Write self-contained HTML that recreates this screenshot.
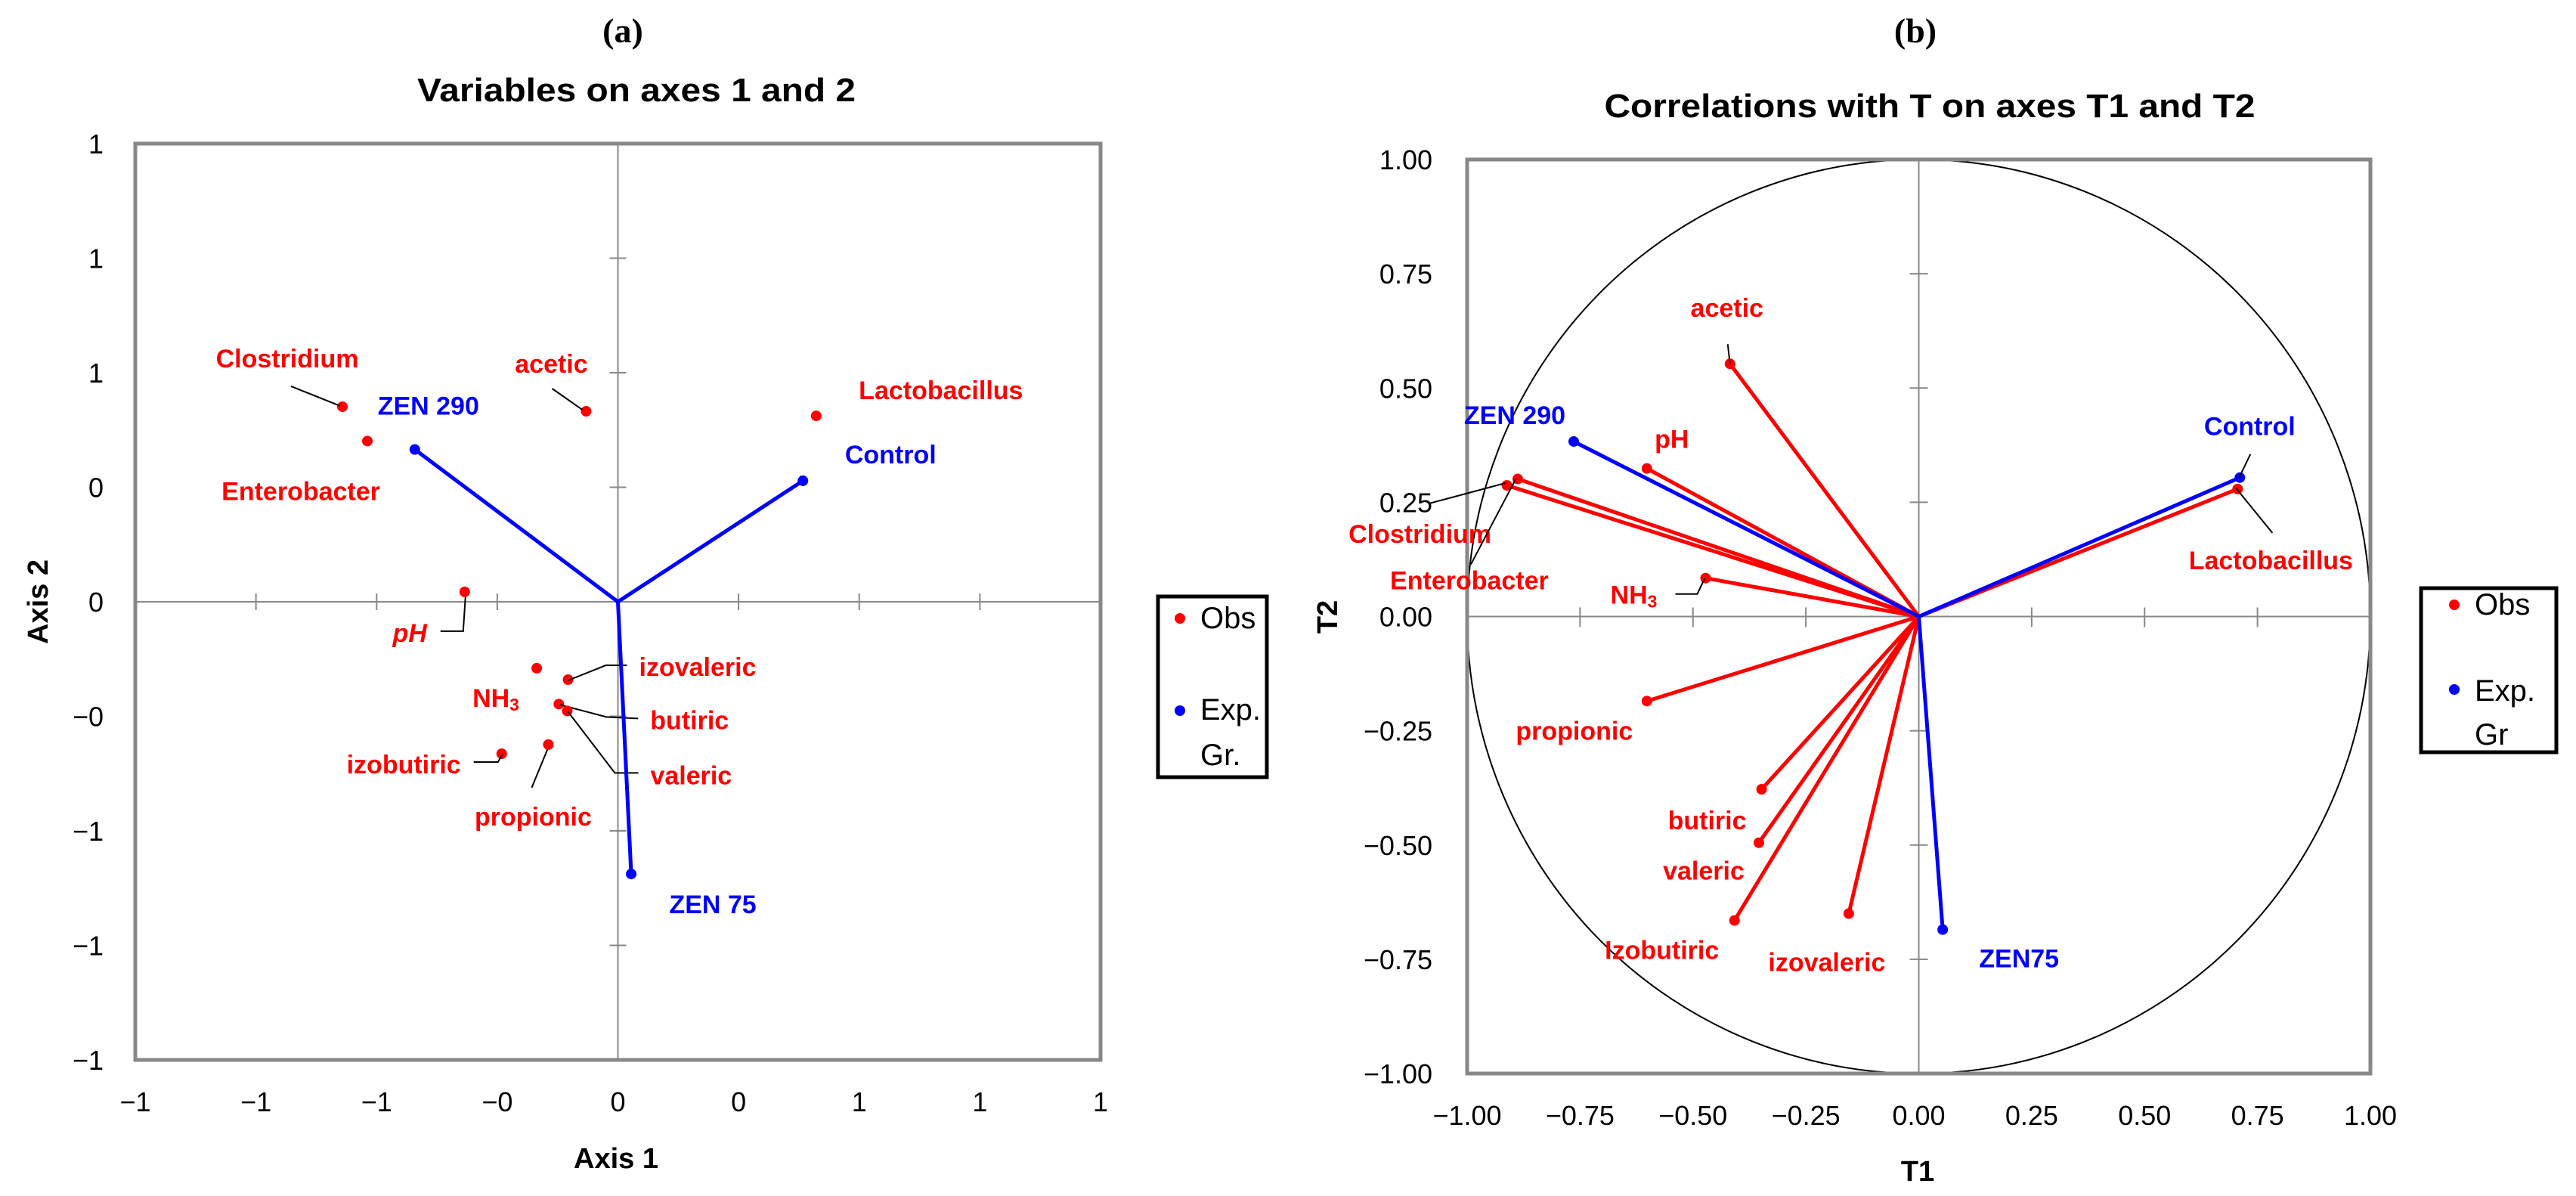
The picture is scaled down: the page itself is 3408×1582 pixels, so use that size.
<!DOCTYPE html>
<html><head><meta charset="utf-8"><style>
html,body{margin:0;padding:0;background:#fff;}
svg{display:block;font-family:"Liberation Sans",sans-serif;}
</style></head><body>
<svg id="fig" width="3408" height="1582" viewBox="0 0 3408 1582" xmlns="http://www.w3.org/2000/svg">
<text x="824" y="56" text-anchor="middle" font-family="Liberation Serif,serif" font-weight="bold" font-size="46">(a)</text>
<text x="842" y="134" text-anchor="middle" font-weight="bold" font-size="44" textLength="580" lengthAdjust="spacingAndGlyphs">Variables on axes 1 and 2</text>
<text x="2534" y="56" text-anchor="middle" font-family="Liberation Serif,serif" font-weight="bold" font-size="46">(b)</text>
<text x="2553" y="155" text-anchor="middle" font-weight="bold" font-size="44" textLength="861" lengthAdjust="spacingAndGlyphs">Correlations with T on axes T1 and T2</text>
<text x="815" y="1545" text-anchor="middle" font-weight="bold" font-size="38">Axis 1</text>
<text transform="translate(63,796) rotate(-90)" text-anchor="middle" font-weight="bold" font-size="38">Axis 2</text>
<text x="2537" y="1562" text-anchor="middle" font-weight="bold" font-size="38">T1</text>
<text transform="translate(1769,816) rotate(-90)" text-anchor="middle" font-weight="bold" font-size="38">T2</text>
<g>
<rect x="1532" y="789" width="144" height="239" fill="#fff" stroke="#000" stroke-width="5"/>
<circle cx="1561" cy="818" r="7" fill="#f00"/><text x="1588" y="831" font-size="40">Obs</text>
<circle cx="1561" cy="940" r="7" fill="#00f"/><text x="1588" y="952" font-size="40">Exp.</text><text x="1588" y="1012" font-size="40">Gr.</text>
</g>
<g>
<rect x="3203" y="778" width="179" height="217" fill="#fff" stroke="#000" stroke-width="5"/>
<circle cx="3247" cy="800" r="7" fill="#f00"/><text x="3274" y="813" font-size="40">Obs</text>
<circle cx="3247" cy="912" r="7" fill="#00f"/><text x="3274" y="927" font-size="40">Exp.</text><text x="3274" y="985" font-size="40">Gr</text>
</g>
<g id="ga"></g><g id="gb"></g>
</svg>
<script>
// ---- Chart A data ----
const aNames = ["Clostridium","Enterobacter","acetic","Lactobacillus","pH","NH3","izovaleric","butiric","valeric","izobutiric","propionic","ZEN 290","Control","ZEN 75"];
const aX = [-0.685,-0.623,-0.079,0.493,-0.381,-0.202,-0.124,-0.147,-0.126,-0.289,-0.173,-0.505,0.460,0.033];
const aY = [0.511,0.421,0.499,0.487,0.026,-0.174,-0.204,-0.268,-0.286,-0.398,-0.374,0.399,0.317,-0.713];
const aGroup = ["obs","obs","obs","obs","obs","obs","obs","obs","obs","obs","obs","exp","exp","exp"];
const aTicks = [-1.2,-0.9,-0.6,-0.3,0,0.3,0.6,0.9,1.2];
const aTickLabels = ["\u22121","\u22121","\u22121","\u22120","0","0","1","1","1"];
const aYTickLabels = ["\u22121","\u22121","\u22121","\u22120","0","0","1","1","1"];
// ---- Chart B data ----
const bNames = ["acetic","pH","Clostridium","Enterobacter","NH3","Lactobacillus","propionic","butiric","valeric","Izobutiric","izovaleric","ZEN 290","Control","ZEN75"];
const bX = [-0.418,-0.602,-0.912,-0.888,-0.472,0.706,-0.602,-0.348,-0.354,-0.408,-0.155,-0.764,0.711,0.053];
const bY = [0.553,0.324,0.287,0.301,0.084,0.279,-0.185,-0.378,-0.495,-0.665,-0.650,0.383,0.304,-0.685];
const bGroup = ["obs","obs","obs","obs","obs","obs","obs","obs","obs","obs","obs","exp","exp","exp"];
const bTicks = [-1,-0.75,-0.5,-0.25,0,0.25,0.5,0.75,1];
const bTickLabels = ["\u22121.00","\u22120.75","\u22120.50","\u22120.25","0.00","0.25","0.50","0.75","1.00"];

const NS="http://www.w3.org/2000/svg";
function mk(parent,tag,attrs){const e=document.createElementNS(NS,tag);for(const k in attrs)e.setAttribute(k,attrs[k]);parent.appendChild(e);return e;}
function label(g,name,x,y,anchor,color,italic){
  const t=mk(g,"text",{x:x,y:y,"text-anchor":anchor,"dominant-baseline":"central",fill:color,"font-weight":"bold","font-size":34});
  if(italic)t.setAttribute("font-style","italic");
  
  
  if(name==="NH3"){t.textContent="NH";const s=mk(t,"tspan",{"font-size":23,dy:8});s.textContent="3";}
  else t.textContent=name;
}
function leader(g,pts){
  const l=mk(g,"polyline",{points:pts.map(p=>p.join(",")).join(" "),fill:"none",stroke:"#000","stroke-width":2});
  
  
}

// ===== Chart A =====
(function(){
const g=document.getElementById("ga");
const L=179,R=1456,T=190,B=1402;
const sx=v=>L+(v+1.2)/2.4*(R-L), sy=v=>B-(v+1.2)/2.4*(B-T);
const x0=sx(0),y0=sy(0);
mk(g,"line",{x1:L,y1:y0,x2:R,y2:y0,stroke:"#888","stroke-width":2});
mk(g,"line",{x1:x0,y1:T,x2:x0,y2:B,stroke:"#888","stroke-width":2});
aTicks.forEach((v,i)=>{
  if(v!==0 && Math.abs(v)<1.2){
    mk(g,"line",{x1:sx(v),y1:y0-11,x2:sx(v),y2:y0+11,stroke:"#888","stroke-width":2});
    mk(g,"line",{x1:x0-11,y1:sy(v),x2:x0+11,y2:sy(v),stroke:"#888","stroke-width":2});
  }
  const tx=mk(g,"text",{x:sx(v),y:1470,"text-anchor":"middle","font-size":36});
  tx.textContent=aTickLabels[i];
  
  
  const ty=mk(g,"text",{x:137,y:sy(v)+13,"text-anchor":"end","font-size":36});
  ty.textContent=aYTickLabels[i];
  
  
});
const box=mk(g,"rect",{x:L,y:T,width:R-L,height:B-T,fill:"none",stroke:"#888","stroke-width":5});


const off={
 "Clostridium":[-73,-63,"middle",[[-68,-27],[-3,-1]]],
 "Enterobacter":[-88,67,"middle",null],
 "acetic":[-46,-62,"middle",[[-45,-30],[-5,-2]]],
 "Lactobacillus":[165,-33,"middle",null],
 "pH":[-50,55,"end",[[-32,52],[-2,52],[1,7]]],
 "NH3":[-54,40,"middle",null],
 "izovaleric":[94,-16,"start",[[0,1],[50,-19],[78,-19]]],
 "butiric":[121,22,"start",[[2,1],[63,17],[105,19]]],
 "valeric":[110,86,"start",[[1,1],[63,82],[94,82]]],
 "izobutiric":[-54,15,"end",[[-37,11],[-5,11],[1,1]]],
 "propionic":[-20,96,"middle",[[-22,57],[-1,6]]],
 "ZEN 290":[18,-57,"middle",null],
 "Control":[116,-34,"middle",null],
 "ZEN 75":[108,41,"middle",null]};
aNames.forEach((n,i)=>{
  const px=sx(aX[i]),py=sy(aY[i]);const exp=aGroup[i]==="exp";const col=exp?"#00f":"#f00";
  if(exp){const ln=mk(g,"line",{x1:x0,y1:y0,x2:px,y2:py,stroke:col,"stroke-width":5});
    
    }
  const c=mk(g,"circle",{cx:px,cy:py,r:7,fill:col});
  
  
  const o=off[n];
  if(o[3])leader(g,o[3].map(p=>[px+p[0],py+p[1]]));
  label(g,n,px+o[0],py+o[1],o[2],col,n==="pH");
});
})();

// ===== Chart B =====
(function(){
const g=document.getElementById("gb");
const L=1941,R=3136,T=211,B=1420;
const sx=v=>L+(v+1)/2*(R-L), sy=v=>B-(v+1)/2*(B-T);
const x0=sx(0),y0=sy(0);
mk(g,"line",{x1:L,y1:y0,x2:R,y2:y0,stroke:"#888","stroke-width":2});
mk(g,"line",{x1:x0,y1:T,x2:x0,y2:B,stroke:"#888","stroke-width":2});
bTicks.forEach((v,i)=>{
  if(v!==0 && Math.abs(v)<1){
    mk(g,"line",{x1:sx(v),y1:y0-12,x2:sx(v),y2:y0+14,stroke:"#888","stroke-width":2});
    mk(g,"line",{x1:x0-12,y1:sy(v),x2:x0+12,y2:sy(v),stroke:"#888","stroke-width":2});
  }
  const tx=mk(g,"text",{x:sx(v),y:1488,"text-anchor":"middle","font-size":36});
  tx.textContent=bTickLabels[i];
  
  
  const ty=mk(g,"text",{x:1895,y:sy(v)+13,"text-anchor":"end","font-size":36});
  ty.textContent=bTickLabels[i];
  
  
});
const circ=mk(g,"ellipse",{cx:x0,cy:y0,rx:(R-L)/2,ry:(B-T)/2,fill:"none",stroke:"#000","stroke-width":2});


const box=mk(g,"rect",{x:L,y:T,width:R-L,height:B-T,fill:"none",stroke:"#888","stroke-width":5});


const off={
 "acetic":[-4,-73,"middle",[[-3,-26],[0,0]]],
 "pH":[33,-38,"middle",null],
 "Clostridium":[-115,65,"middle",[[-103,24],[-2,-3]]],
 "Enterobacter":[-64,135,"middle",[[-62,113],[-2,-1]]],
 "NH3":[-95,23,"middle",[[-40,21],[-11,21],[-1,0]]],
 "Lactobacillus":[44,95,"middle",[[46,58],[-2,-1]]],
 "propionic":[-96,40,"middle",null],
 "butiric":[-72,42,"middle",null],
 "valeric":[-73,38,"middle",null],
 "Izobutiric":[-96,40,"middle",null],
 "izovaleric":[-29,65,"middle",null],
 "ZEN 290":[-78,-34,"middle",null],
 "Control":[13,-67,"middle",[[14,-31],[-1,0]]],
 "ZEN75":[101,39,"middle",null]};
bNames.forEach((n,i)=>{
  const px=sx(bX[i]),py=sy(bY[i]);const col=bGroup[i]==="exp"?"#00f":"#f00";
  const ln=mk(g,"line",{x1:x0,y1:y0,x2:px,y2:py,stroke:col,"stroke-width":5});
  
  
});
bNames.forEach((n,i)=>{
  const px=sx(bX[i]),py=sy(bY[i]);const col=bGroup[i]==="exp"?"#00f":"#f00";
  const c=mk(g,"circle",{cx:px,cy:py,r:7,fill:col});
  
  
  const o=off[n];
  if(o[3])leader(g,o[3].map(p=>[px+p[0],py+p[1]]));
  label(g,n,px+o[0],py+o[1],o[2],col,false);
});
})();
</script>
</body></html>
